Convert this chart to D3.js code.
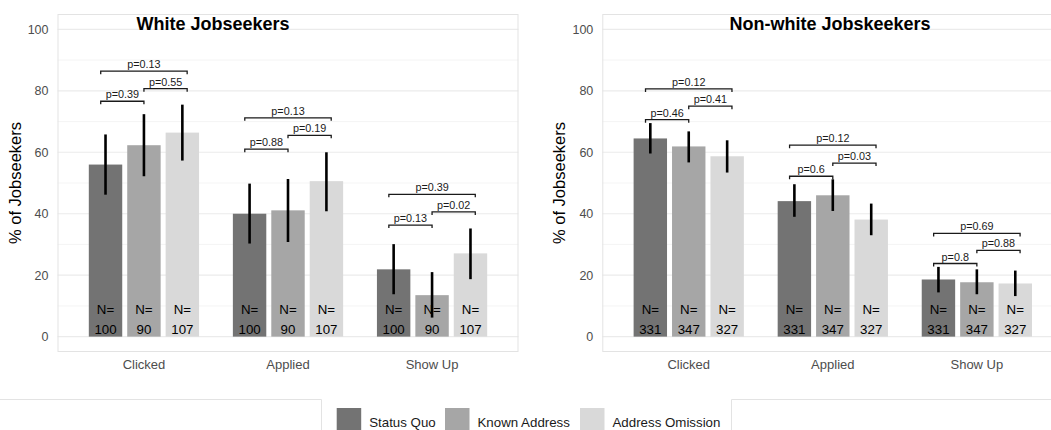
<!DOCTYPE html>
<html>
<head>
<meta charset="utf-8">
<script src="https://cdn.jsdelivr.net/npm/d3@7"></script>
<style>
  body { margin: 0; background: #fff; }
  svg { font-family: "Liberation Sans", Arial, sans-serif; display: block; }
</style>
</head>
<body>
<div id="chart"></div>
<script>
// categories
const stages = ["Clicked", "Applied", "Show Up"]
const treatments = ["Status Quo", "Known Address", "Address Omission"]
const fills = ["#737373", "#a6a6a6", "#d9d9d9"]

// white jobseekers: % per stage x treatment, CI low/high, N, p-values and bracket heights
const whitePct = [[56.0, 62.3, 66.4], [40.0, 41.1, 50.6], [21.9, 13.5, 27.1]]
const whiteLo  = [[46.2, 52.2, 57.3], [30.3, 30.8, 40.8], [13.8, 6.2, 18.7]]
const whiteHi  = [[65.8, 72.4, 75.5], [49.8, 51.3, 60.0], [30.1, 21.0, 35.2]]
const whiteN   = [100, 90, 107]
// pairs: SQ-KA, KA-AO, SQ-AO
const whiteP   = [["0.39", "0.55", "0.13"], ["0.88", "0.19", "0.13"], ["0.13", "0.02", "0.39"]]
const whitePY  = [[76.6, 80.7, 86.4], [61.0, 65.5, 71.2], [36.3, 40.6, 46.3]]

// non-white jobseekers
const nonwhitePct = [[64.5, 61.9, 58.7], [44.1, 46.0, 38.1], [18.6, 17.7, 17.3]]
const nonwhiteLo  = [[59.6, 56.7, 53.4], [39.0, 40.9, 33.0], [14.4, 13.8, 13.2]]
const nonwhiteHi  = [[69.5, 66.8, 63.9], [49.6, 51.2, 43.3], [22.7, 21.9, 21.5]]
const nonwhiteN   = [331, 347, 327]
const nonwhiteP   = [["0.46", "0.41", "0.12"], ["0.6", "0.03", "0.12"], ["0.8", "0.88", "0.69"]]
const nonwhitePY  = [[70.6, 75.0, 80.6], [52.2, 56.5, 62.3], [23.8, 28.1, 33.6]]

const yTicks = [0, 20, 40, 60, 80, 100]
const yMinor = [10, 30, 50, 70, 90]

const W = 1051, H = 430
const svg = d3.select("#chart").append("svg")
    .attr("width", W)
    .attr("height", H)

// odd boxes around the legend area (left and right)
svg.append("path")
    .attr("d", "M-2,399.5H321.5V432")
    .attr("fill", "none").attr("stroke", "#e3e3e3").attr("stroke-width", 1)
svg.append("path")
    .attr("d", "M1053,399.5H731.5V432")
    .attr("fill", "none").attr("stroke", "#e3e3e3").attr("stroke-width", 1)

function drawPanel(opts) {
    const left = opts.left, top = 14, width = 461, height = 338
    const g = svg.append("g").attr("transform", `translate(${left},${top})`)

    const y = d3.scaleLinear().domain([-5, 105]).range([height, 0])
    const x = d3.scaleBand().domain(stages).range([0, width])
        .paddingInner(0.2).paddingOuter(0.2)
    const xs = d3.scaleBand().domain(treatments).range([0, x.bandwidth()])
        .paddingInner(0.13).paddingOuter(0.065)

    // grid
    g.selectAll(".minor").data(yMinor).enter().append("line")
        .attr("x1", 0).attr("x2", width)
        .attr("y1", d => y(d)).attr("y2", d => y(d))
        .attr("stroke", "#f0f0f0").attr("stroke-width", 0.7)
    g.selectAll(".major").data(yTicks).enter().append("line")
        .attr("x1", 0).attr("x2", width)
        .attr("y1", d => y(d)).attr("y2", d => y(d))
        .attr("stroke", "#ebebeb").attr("stroke-width", 1.2)

    // panel border
    g.append("rect")
        .attr("x", 0.5).attr("y", 0.5)
        .attr("width", width - 1).attr("height", height - 1)
        .attr("fill", "none").attr("stroke", "#e3e3e3").attr("stroke-width", 1)

    // y axis
    const yAxis = g.append("g").call(d3.axisLeft(y).tickValues(yTicks).tickSize(0).tickPadding(9))
    yAxis.select(".domain").remove()
    yAxis.selectAll("text")
        .attr("font-size", 12.5).attr("fill", "#4d4d4d")
        .attr("font-family", "Liberation Sans, Arial, sans-serif")

    // x axis
    const xAxis = g.append("g").attr("transform", `translate(0,${height})`)
        .call(d3.axisBottom(x).tickSize(0).tickPadding(8))
    xAxis.select(".domain").remove()
    xAxis.selectAll("text")
        .attr("font-size", 13).attr("fill", "#4d4d4d")
        .attr("font-family", "Liberation Sans, Arial, sans-serif")

    // y title
    g.append("text")
        .attr("transform", `translate(${opts.ytitleX},${height / 2}) rotate(-90)`)
        .attr("text-anchor", "middle")
        .attr("font-size", 16.5)
        .attr("fill", "#000")
        .text("% of Jobseekers")

    // title
    g.append("text")
        .attr("x", opts.titleX - left).attr("y", 16)
        .attr("text-anchor", "middle")
        .attr("font-size", 18).attr("font-weight", "bold")
        .text(opts.title)

    const rows = []
    stages.forEach((s, i) => {
        treatments.forEach((t, j) => {
            rows.push({ stage: s, trt: t, j: j, pct: opts.pct[i][j], lo: opts.lo[i][j], hi: opts.hi[i][j], n: opts.n[j] })
        })
    })

    const bx = d => x(d.stage) + xs(d.trt)
    const bc = d => bx(d) + xs.bandwidth() / 2

    g.selectAll(".bar").data(rows).enter().append("rect")
        .attr("x", bx)
        .attr("y", d => y(d.pct))
        .attr("width", xs.bandwidth())
        .attr("height", d => y(0) - y(d.pct))
        .attr("fill", d => fills[d.j])

    g.selectAll(".nlab").data(rows).enter().append("text")
        .attr("x", bc).attr("y", y(0) - 23)
        .attr("text-anchor", "middle").attr("font-size", 13.3).attr("fill", "#000")
        .text("N=")
    g.selectAll(".nval").data(rows).enter().append("text")
        .attr("x", bc).attr("y", y(0) - 3)
        .attr("text-anchor", "middle").attr("font-size", 13.3).attr("fill", "#000")
        .text(d => d.n)

    g.selectAll(".err").data(rows).enter().append("line")
        .attr("x1", bc).attr("x2", bc)
        .attr("y1", d => y(d.lo)).attr("y2", d => y(d.hi))
        .attr("stroke", "#000").attr("stroke-width", 2.6)

    // significance brackets
    const spans = [[-0.3, 0], [0, 0.3], [-0.3, 0.3]]
    const br = []
    stages.forEach((s, i) => {
        spans.forEach((sp, k) => {
            br.push({ stage: s, a: sp[0], b: sp[1], p: opts.p[i][k], yv: opts.py[i][k] })
        })
    })
    const cx = d => x(d.stage) + x.bandwidth() / 2
    g.selectAll(".br").data(br).enter().append("path")
        .attr("d", d => {
            const x1 = cx(d) + d.a * x.step(), x2 = cx(d) + d.b * x.step(), yy = y(d.yv)
            return `M${x1},${yy + 3}V${yy}H${x2}V${yy + 3}`
        })
        .attr("fill", "none").attr("stroke", "#1a1a1a").attr("stroke-width", 1.3)
    g.selectAll(".pl").data(br).enter().append("text")
        .attr("x", d => cx(d) + (d.a + d.b) / 2 * x.step())
        .attr("y", d => y(d.yv) - 3)
        .attr("text-anchor", "middle").attr("font-size", 10.8).attr("fill", "#1a1a1a")
        .text(d => "p=" + d.p)
}

drawPanel({ left: 57.5, title: "White Jobseekers", titleX: 213, ytitleX: -37,
    pct: whitePct, lo: whiteLo, hi: whiteHi, n: whiteN, p: whiteP, py: whitePY })
drawPanel({ left: 602.3, title: "Non-white Jobskeekers", titleX: 830, ytitleX: -37,
    pct: nonwhitePct, lo: nonwhiteLo, hi: nonwhiteHi, n: nonwhiteN, p: nonwhiteP, py: nonwhitePY })

// legend
const lx = [336.7, 445, 580]
const leg = svg.append("g")
leg.selectAll("rect").data(treatments).enter().append("rect")
    .attr("x", (d, i) => lx[i]).attr("y", 408)
    .attr("width", 24.5).attr("height", 24)
    .attr("fill", (d, i) => fills[i])
leg.selectAll("text").data(treatments).enter().append("text")
    .attr("x", (d, i) => lx[i] + 32.5).attr("y", 426.5)
    .attr("font-size", 13.3).attr("fill", "#1a1a1a")
    .text(d => d)
</script>
</body>
</html>
